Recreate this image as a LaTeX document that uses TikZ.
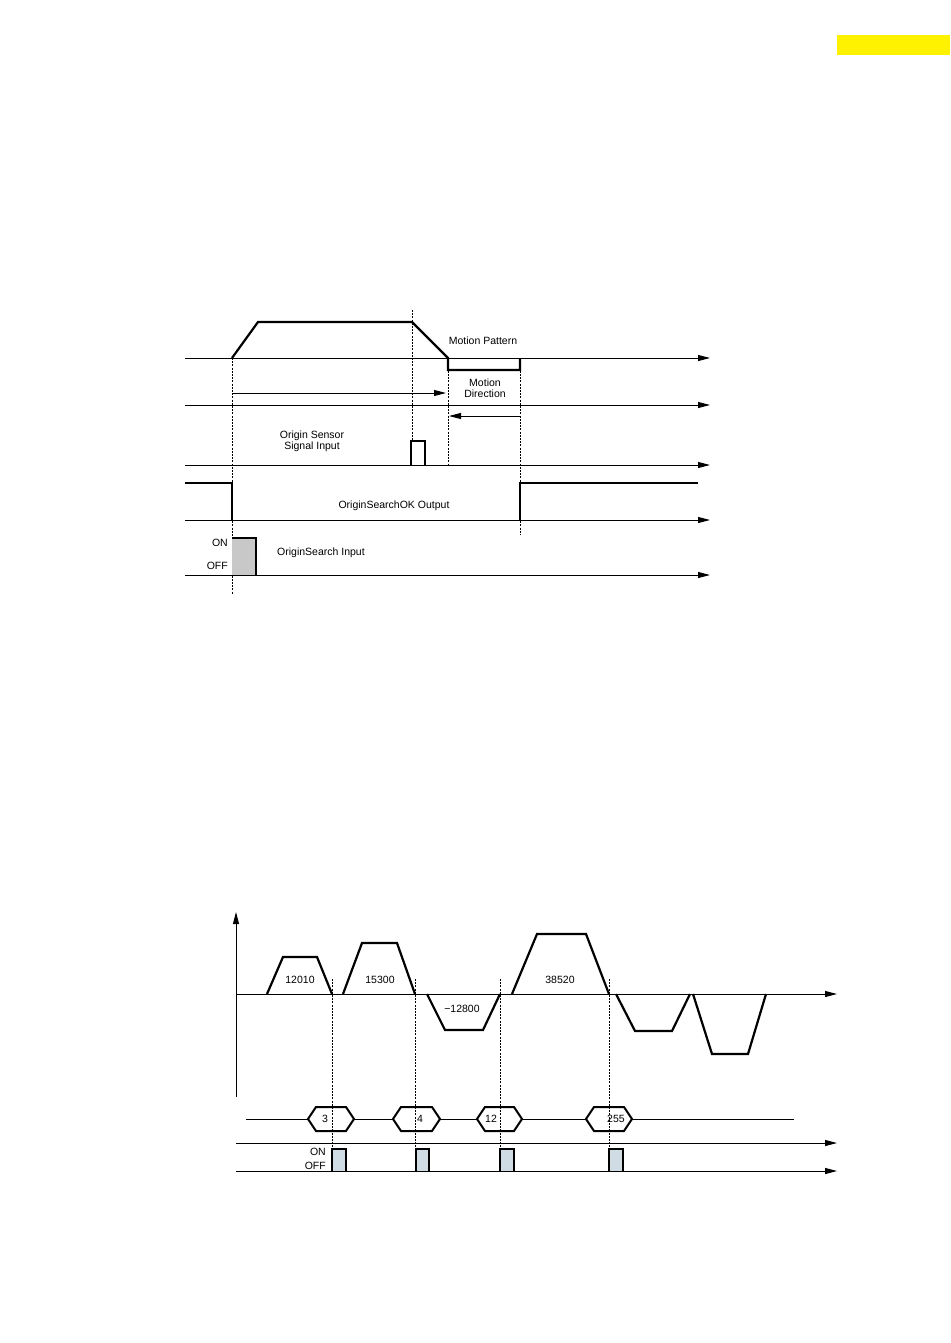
\documentclass[tikz,border=0pt]{standalone}
\usepackage{fontspec}
\setmainfont{Liberation Sans}
\usetikzlibrary{arrows.meta,positioning}
\definecolor{inputgray}{RGB}{200,200,200}
\definecolor{pulseblue}{RGB}{208,220,228}

\begin{document}
\begin{tikzpicture}[x=1pt, y=-1pt,
  every node/.style={font=\fontsize{10.5}{10.6}\selectfont, inner sep=0pt},
  axis/.style={line width=1pt, -{Triangle[length=12pt,width=6pt]}},
  sig/.style={line width=2.2pt, line join=miter},
  guide/.style={line width=0.8pt, dash pattern=on 2pt off 1.2pt},
  hexbus/.style={line width=2pt, fill=white}]
  \useasboundingbox (0,0) rectangle (950,1343);
  \fill[yellow] (837,35) rectangle (950,55);

  % Origin search timing
  \draw[axis] (185,358) -- (710,358);
  \draw[axis] (185,405) -- (710,405);
  \draw[axis] (185,465) -- (710,465);
  \draw[axis] (185,520) -- (710,520);
  \draw[axis] (185,575) -- (710,575);

  \draw[guide] (232,358) -- (232,594);
  \draw[guide] (412,310) -- (412,441);
  \draw[guide] (448,358) -- (448,465);
  \draw[guide] (520,358) -- (520,535);

  \draw[sig] (232,358) -- (258,322) -- (412,322) -- (448,358)
    -- (448,370) -- (520,370) -- (520,358);
  \node (pattern) at (483,341) {Motion Pattern};

  \draw[axis] (232,393) -- (446,393);
  \draw[axis] (520,416) -- (449,416);
  \node[align=center] (direction) at (485,388) {Motion\\Direction};

  \draw[sig] (411,465) -- (411,441) -- (425,441) -- (425,465);
  \node[align=center] (sensor) at (312,441) {Origin Sensor\\Signal Input};

  \draw[sig] (185,483) -- (232,483) -- (232,520);
  \draw[sig] (520,520) -- (520,483) -- (698,483);
  \node (okout) at (394,506) {OriginSearchOK Output};

  \fill[inputgray] (232,538) rectangle (256,575);
  \draw[sig] (232,538) -- (256,538) -- (256,575);
  \node[anchor=east] (on1) at (228,543) {ON};
  \node[anchor=east] (off1) at (228,566) {OFF};
  \node[anchor=west] (searchin) at (277,553) {OriginSearch Input};

  % Profile table run
  \draw[line width=1pt, -{Triangle[length=12pt,width=6pt]}] (236,1097) -- (236,912);
  \draw[axis] (236,994) -- (837,994);

  \draw[sig] (267,994) -- (283,957) -- (317,957) -- (332,994);
  \draw[sig] (343,994) -- (362,943) -- (397,943) -- (415,994);
  \draw[sig] (427,994) -- (445,1030) -- (483,1030) -- (500,994);
  \draw[sig] (512,994) -- (537,934) -- (586,934) -- (609,994);
  \draw[sig] (616,994) -- (635,1031) -- (672,1031) -- (690,994);
  \draw[sig] (693,994) -- (712,1054) -- (748,1054) -- (766,994);
  \node (p1) at (300,980) {12010};
  \node (p2) at (380,980) {15300};
  \node (p3) at (462,1009) {−12800};
  \node (p4) at (560,980) {38520};

  \draw[line width=1pt] (246,1119) -- (794,1119);
  \draw[hexbus] (308,1119) -- (316,1107) -- (346,1107) -- (354,1119) -- (346,1131) -- (316,1131) -- cycle;
  \draw[hexbus] (393,1119) -- (401,1107) -- (432,1107) -- (440,1119) -- (432,1131) -- (401,1131) -- cycle;
  \draw[hexbus] (477,1119) -- (485,1107) -- (514,1107) -- (522,1119) -- (514,1131) -- (485,1131) -- cycle;
  \draw[hexbus] (586,1119) -- (594,1107) -- (624,1107) -- (632,1119) -- (624,1131) -- (594,1131) -- cycle;

  \draw[guide] (332,979) -- (332,1149);
  \draw[guide] (415,979) -- (415,1149);
  \draw[guide] (500,979) -- (500,1149);
  \draw[guide] (609,979) -- (609,1149);

  \node (n1) at (325,1119) {3};
  \node (n2) at (420,1119) {4};
  \node (n3) at (491,1119) {12};
  \node (n4) at (616,1119) {255};

  \draw[axis] (236,1143) -- (837,1143);
  \draw[axis] (236,1171) -- (837,1171);
  \filldraw[fill=pulseblue, sig] (332,1171) -- (332,1149) -- (346,1149) -- (346,1171);
  \filldraw[fill=pulseblue, sig] (416,1171) -- (416,1149) -- (429,1149) -- (429,1171);
  \filldraw[fill=pulseblue, sig] (500,1171) -- (500,1149) -- (514,1149) -- (514,1171);
  \filldraw[fill=pulseblue, sig] (609,1171) -- (609,1149) -- (623,1149) -- (623,1171);
  \node[anchor=east] (on2) at (326,1152) {ON};
  \node[anchor=east] (off2) at (326,1166) {OFF};
\end{tikzpicture}
\end{document}
